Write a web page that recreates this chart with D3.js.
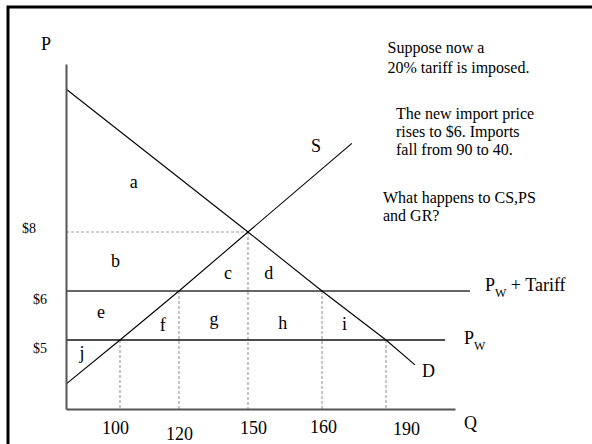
<!DOCTYPE html>
<html>
<head>
<meta charset="utf-8">
<script src="https://cdn.jsdelivr.net/npm/d3@7"></script>
<style>
  html, body { margin: 0; padding: 0; background: #fff; }
  svg { display: block; font-family: "Liberation Serif", "Times New Roman", serif; }
  text { white-space: pre; }
</style>
</head>
<body>
<div id="chart"></div>
<script>
// Quantity and price levels marked on the diagram
const qTicks = [100, 120, 150, 160, 190];
const priceTicks = [5, 6, 8];
const worldPrice = 5;
const tariffPrice = 6;
const autarkyPrice = 8;

// Curves as [Q, P] points
const supply = [[80, 4.04], [100, 5], [120, 6], [150, 8], [174, 10.9]];
const demand = [[80, 12.68], [150, 8], [160, 6], [190, 5], [202.6, 4.46]];

// Points where dashed drop lines meet the curves
const dropPoints = [[100, 5], [120, 6], [150, 8], [160, 6], [190, 5]];

// Area labels placed in data space
const areaLabels = [
    {label: "a", q: 104.7, p: 9.44},
    {label: "b", q: 98.3, p: 6.81},
    {label: "c", q: 141.3, p: 6.42},
    {label: "d", q: 152.8, p: 6.42},
    {label: "e", q: 93, p: 5.45},
    {label: "f", q: 114.5, p: 5.18},
    {label: "g", q: 135.2, p: 5.3},
    {label: "h", q: 154.7, p: 5.23},
    {label: "i", q: 170.5, p: 5.2},
    {label: "j", q: 85.9, p: 4.59}
];

const notes = [
    ["Suppose now a", "20% tariff is imposed."],
    ["The new import price", "rises to $6. Imports", "fall from 90 to 40."],
    ["What happens to CS,PS", "and GR?"]
];

const width = 592, height = 444;

const svg = d3.select("#chart").append("svg")
    .attr("width", width)
    .attr("height", height);

// Schematic axes: not to scale, so piecewise linear scales
const x = d3.scaleLinear()
    .domain([80, 100, 120, 150, 160, 190, 220])
    .range([66, 120, 179, 248, 322, 386, 455]);
const y = d3.scaleLinear()
    .domain([3.5, 5, 6, 8, 13.5])
    .range([409, 340, 291, 232, 64]);

// Frame (top and left only visible)
svg.append("path")
    .attr("d", `M8,${height} V7 H${width}`)
    .attr("fill", "none")
    .attr("stroke", "#000")
    .attr("stroke-width", 3);

const dashColor = "#a0a0a0";

// Dashed $8 line
svg.append("line")
    .attr("x1", x(80)).attr("x2", x(150))
    .attr("y1", y(autarkyPrice)).attr("y2", y(autarkyPrice))
    .attr("stroke", dashColor)
    .attr("stroke-width", 1.2)
    .attr("stroke-dasharray", "3,2");

// Dashed drop lines
svg.append("g").selectAll("line")
    .data(dropPoints)
    .join("line")
    .attr("x1", d => x(d[0])).attr("x2", d => x(d[0]))
    .attr("y1", d => y(d[1])).attr("y2", y(3.5))
    .attr("stroke", dashColor)
    .attr("stroke-width", 1.2)
    .attr("stroke-dasharray", "3,2");

// Price lines
svg.append("line")
    .attr("x1", x(80)).attr("x2", x(226.5))
    .attr("y1", y(tariffPrice)).attr("y2", y(tariffPrice))
    .attr("stroke", "#333").attr("stroke-width", 1.5);
svg.append("line")
    .attr("x1", x(80)).attr("x2", x(215.7))
    .attr("y1", y(worldPrice)).attr("y2", y(worldPrice))
    .attr("stroke", "#111").attr("stroke-width", 1.3);

// Supply and demand
const line = d3.line().x(d => x(d[0])).y(d => y(d[1]));
svg.append("path").datum(supply)
    .attr("d", line).attr("fill", "none")
    .attr("stroke", "#000").attr("stroke-width", 1.1);
svg.append("path").datum(demand)
    .attr("d", line).attr("fill", "none")
    .attr("stroke", "#000").attr("stroke-width", 1.1);

// Axes (no tick marks)
const xNudge = {100: [-5, 25], 120: [0, 31], 150: [5, 25], 160: [1, 24], 190: [20, 26]};
const xAxis = svg.append("g")
    .attr("transform", `translate(0,${y(3.5)})`)
    .call(d3.axisBottom(x).tickValues(qTicks).tickSize(0).tickSizeOuter(0));
xAxis.select(".domain").attr("stroke", "#555").attr("stroke-width", 2);
xAxis.selectAll(".tick text")
    .attr("dy", null)
    .attr("x", d => xNudge[d][0])
    .attr("y", d => xNudge[d][1])
    .attr("fill", "#000")
    .style("font-family", "Liberation Serif")
    .style("font-size", "18px");

const yNudge = {5: [-19, 12], 6: [-19, 12], 8: [-30, 0]};
const yAxis = svg.append("g")
    .attr("transform", `translate(${x(80)},0)`)
    .call(d3.axisLeft(y).tickValues(priceTicks).tickSize(0).tickSizeOuter(0).tickFormat(d => "$" + d));
yAxis.select(".domain").attr("stroke", "#555").attr("stroke-width", 2);
yAxis.selectAll(".tick text")
    .attr("dy", null)
    .attr("x", d => yNudge[d][0])
    .attr("y", d => yNudge[d][1])
    .attr("fill", "#000")
    .style("font-family", "Liberation Serif")
    .style("font-size", "14px");

// Axis titles and curve names
const big = "18px";
svg.append("text").attr("x", 41).attr("y", 50).style("font-size", big).text("P");
svg.append("text").attr("x", 464).attr("y", 429).style("font-size", big).text("Q");
svg.append("text").attr("x", 311).attr("y", 151.5).style("font-size", big).text("S");
svg.append("text").attr("x", 422).attr("y", 377).style("font-size", big).text("D");

const pwt = svg.append("text")
    .attr("x", 485).attr("y", y(tariffPrice))
    .style("font-size", big);
pwt.append("tspan").text("P");
pwt.append("tspan").attr("dy", 6).style("font-size", "12px").text("W");
pwt.append("tspan").attr("dy", -6).text(" + Tariff");

const pw = svg.append("text")
    .attr("x", 464).attr("y", y(worldPrice) + 3.7)
    .style("font-size", big);
pw.append("tspan").text("P");
pw.append("tspan").attr("dy", 6).style("font-size", "12px").text("W");

// Area letters
svg.append("g").selectAll("text")
    .data(areaLabels)
    .join("text")
    .attr("x", d => x(d.q))
    .attr("y", d => y(d.p))
    .attr("text-anchor", "middle")
    .style("font-size", big)
    .text(d => d.label);

// Notes on the right
const notePos = [[387.5, 52.5, 20.5], [396, 119, 18], [383, 203, 18]];
notes.forEach((lines, i) => {
    const [nx, ny, lh] = notePos[i];
    svg.append("g").selectAll("text")
        .data(lines)
        .join("text")
        .attr("x", nx)
        .attr("y", (d, j) => ny + j * lh)
        .style("font-size", "16px")
        .text(d => d);
});
</script>
</body>
</html>
